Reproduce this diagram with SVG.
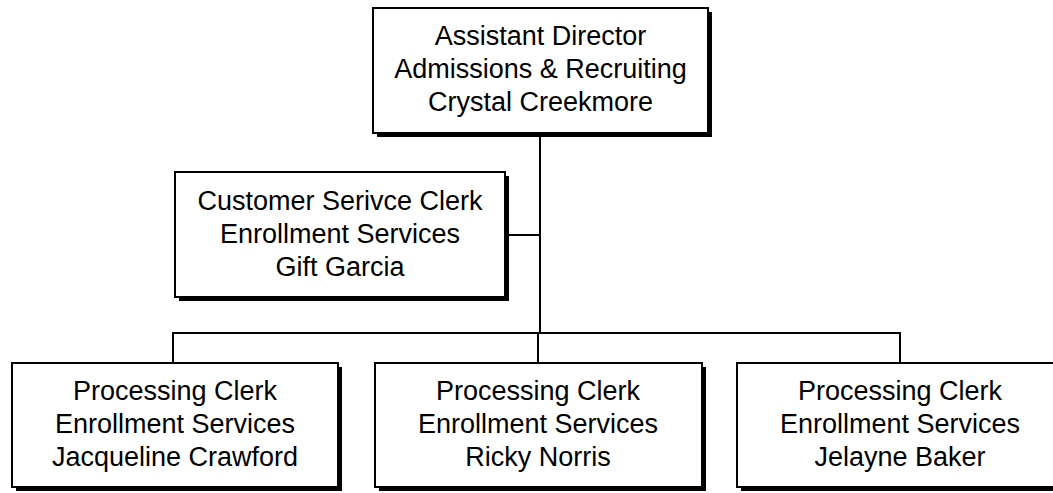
<svg xmlns="http://www.w3.org/2000/svg" width="1053" height="493" viewBox="0 0 1053 493">
<style>
.box{fill:#fff;stroke:#000;stroke-width:2}
.sh{fill:#000}
.t{font-family:"Liberation Sans",Arial,sans-serif;font-size:27px;fill:#000;text-anchor:middle}
.c{stroke:#000;stroke-width:2;fill:none}
</style>
<rect width="1053" height="493" fill="#fff"/>
<g id="connectors">
<path class="c" d="M540,133 V333"/>
<path class="c" d="M505,235 H540"/>
<path class="c" d="M173,363 V333 H900 V363"/>
<path class="c" d="M538,333 V363"/>
</g>
<g id="n-director">
<rect class="sh" x="377" y="12" width="335" height="125"/>
<rect class="box" x="373" y="8" width="335" height="125"/>
<text class="t" x="540.5" y="45">Assistant Director</text>
<text class="t" x="540.5" y="78">Admissions &amp; Recruiting</text>
<text class="t" x="540.5" y="111">Crystal Creekmore</text>
</g>
<g id="n-customer">
<rect class="sh" x="179" y="176" width="330" height="125"/>
<rect class="box" x="175" y="172" width="330" height="125"/>
<text class="t" x="340" y="210">Customer Serivce Clerk</text>
<text class="t" x="340" y="243">Enrollment Services</text>
<text class="t" x="340" y="276">Gift Garcia</text>
</g>
<g id="n-jacqueline">
<rect class="sh" x="16" y="367" width="326" height="124"/>
<rect class="box" x="12" y="363" width="326" height="124"/>
<text class="t" x="175" y="400">Processing Clerk</text>
<text class="t" x="175" y="433">Enrollment Services</text>
<text class="t" x="175" y="466">Jacqueline Crawford</text>
</g>
<g id="n-ricky">
<rect class="sh" x="379" y="367" width="327" height="124"/>
<rect class="box" x="375" y="363" width="327" height="124"/>
<text class="t" x="538" y="400">Processing Clerk</text>
<text class="t" x="538" y="433">Enrollment Services</text>
<text class="t" x="538" y="466">Ricky Norris</text>
</g>
<g id="n-jelayne">
<rect class="sh" x="741" y="367" width="326" height="124"/>
<rect class="box" x="737" y="363" width="326" height="124"/>
<text class="t" x="900" y="400">Processing Clerk</text>
<text class="t" x="900" y="433">Enrollment Services</text>
<text class="t" x="900" y="466">Jelayne Baker</text>
</g>
</svg>
